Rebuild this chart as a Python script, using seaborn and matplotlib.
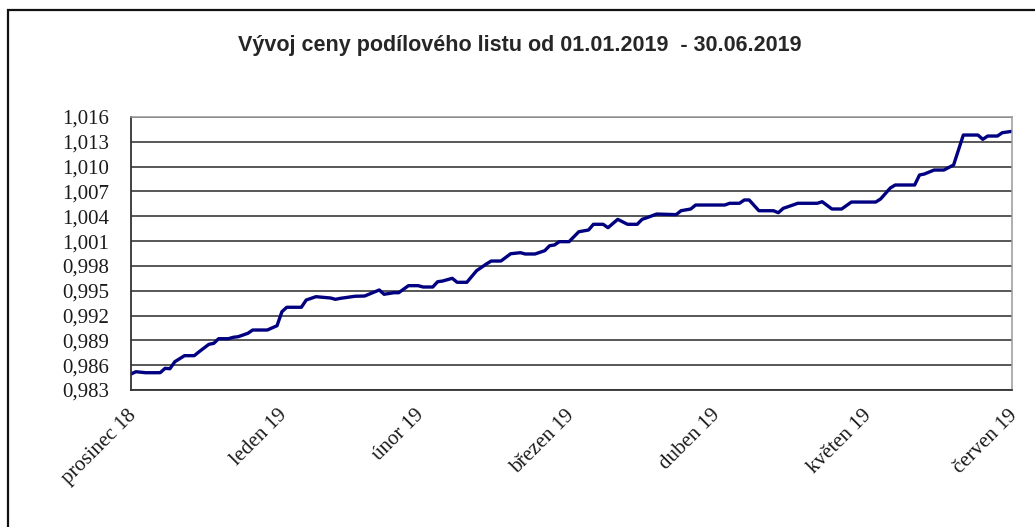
import matplotlib
matplotlib.use("Agg")
import matplotlib.pyplot as plt
import matplotlib.dates as mdates
import matplotlib.transforms as mtransforms
from matplotlib.patches import Rectangle
from matplotlib.ticker import FixedLocator, FuncFormatter
import pandas as pd
import seaborn as sns

# Price of one unit (NAV per share), daily vertices of the series
dates = [
    "2018-12-31", "2019-01-01", "2019-01-03", "2019-01-06", "2019-01-07", "2019-01-08",
    "2019-01-09", "2019-01-11", "2019-01-13", "2019-01-14", "2019-01-16", "2019-01-17",
    "2019-01-18", "2019-01-20", "2019-01-21", "2019-01-22", "2019-01-24", "2019-01-25",
    "2019-01-28", "2019-01-30", "2019-01-31", "2019-02-01", "2019-02-04", "2019-02-05",
    "2019-02-07", "2019-02-10", "2019-02-11", "2019-02-12", "2019-02-13", "2019-02-15",
    "2019-02-17", "2019-02-20", "2019-02-21", "2019-02-23", "2019-02-24", "2019-02-26",
    "2019-02-28", "2019-03-01", "2019-03-03", "2019-03-04", "2019-03-05", "2019-03-07",
    "2019-03-08", "2019-03-10", "2019-03-12", "2019-03-14", "2019-03-15", "2019-03-17",
    "2019-03-19", "2019-03-21", "2019-03-22", "2019-03-24", "2019-03-26", "2019-03-27",
    "2019-03-28", "2019-03-29", "2019-03-31", "2019-04-02", "2019-04-04", "2019-04-05",
    "2019-04-07", "2019-04-08", "2019-04-10", "2019-04-12", "2019-04-14", "2019-04-15",
    "2019-04-16", "2019-04-18", "2019-04-22", "2019-04-23", "2019-04-25", "2019-04-26",
    "2019-05-02", "2019-05-03", "2019-05-05", "2019-05-06", "2019-05-07", "2019-05-09",
    "2019-05-12", "2019-05-13", "2019-05-14", "2019-05-15", "2019-05-17", "2019-05-21",
    "2019-05-22", "2019-05-24", "2019-05-26", "2019-05-28", "2019-06-02", "2019-06-03",
    "2019-06-05", "2019-06-06", "2019-06-10", "2019-06-11", "2019-06-12", "2019-06-14",
    "2019-06-16", "2019-06-18", "2019-06-20", "2019-06-23", "2019-06-24", "2019-06-25",
    "2019-06-27", "2019-06-28", "2019-06-30",
]
prices = [
    0.98493, 0.98521, 0.98509, 0.98509, 0.98562, 0.98557,
    0.98642, 0.98715, 0.98715, 0.98763, 0.98852, 0.98864,
    0.98920, 0.98920, 0.98937, 0.98944, 0.98985, 0.99025,
    0.99025, 0.99077, 0.99246, 0.99300, 0.99300, 0.99388,
    0.99428, 0.99412, 0.99396, 0.99408, 0.99416, 0.99433,
    0.99436, 0.99509, 0.99457, 0.99476, 0.99476, 0.99561,
    0.99561, 0.99545, 0.99545, 0.99609, 0.99617, 0.99650,
    0.99602, 0.99602, 0.99742, 0.99823, 0.99859, 0.99859,
    0.99947, 0.99960, 0.99944, 0.99944, 0.99984, 1.00044,
    1.00053, 1.00093, 1.00093, 1.00213, 1.00234, 1.00303,
    1.00303, 1.00262, 1.00363, 1.00303, 1.00303, 1.00363,
    1.00383, 1.00427, 1.00420, 1.00467, 1.00488, 1.00536,
    1.00536, 1.00557, 1.00557, 1.00597, 1.00597, 1.00467,
    1.00467, 1.00443, 1.00496, 1.00516, 1.00557, 1.00557,
    1.00576, 1.00488, 1.00488, 1.00572, 1.00572, 1.00609,
    1.00742, 1.00778, 1.00778, 1.00899, 1.00911, 1.00959,
    1.00959, 1.01020, 1.01382, 1.01382, 1.01330, 1.01370,
    1.01370, 1.01410, 1.01427,
]

# Axis ticks
y_ticks = [0.983, 0.986, 0.989, 0.992, 0.995, 0.998, 1.001,
           1.004, 1.007, 1.010, 1.013, 1.016]
month_ticks = ["2018-12-31", "2019-01-31", "2019-02-28", "2019-03-31",
               "2019-04-30", "2019-05-31", "2019-06-30"]
month_labels = ["prosinec 18", "leden 19", "únor 19", "březen 19",
                "duben 19", "květen 19", "červen 19"]
title = "Vývoj ceny podílového listu od 01.01.2019  - 30.06.2019"

sns.set_style("white")
plt.rcParams["font.family"] = ["Liberation Serif", "DejaVu Serif"]

df = pd.DataFrame({"datum": pd.to_datetime(dates), "cena": prices})

fig = plt.figure(figsize=(10.35, 5.27), dpi=100)
fig.patch.set_facecolor("white")

# Outer border of the chart object
fig.add_artist(Rectangle((8 / 1035, -0.2), 1.2, 1.2 - 10 / 527,
                         transform=fig.transFigure, fill=False,
                         edgecolor="#111111", linewidth=1.6))

ax = fig.add_axes([131 / 1035, 1 - 390 / 527, (1012 - 131) / 1035, (390 - 117) / 527])

sns.lineplot(data=df, x="datum", y="cena", ax=ax, color="#000080",
             linewidth=2.4, legend=False)

ax.set_xlim(pd.Timestamp(month_ticks[0]), pd.Timestamp(month_ticks[-1]))
ax.set_ylim(y_ticks[0], y_ticks[-1])

ax.yaxis.set_major_locator(FixedLocator(y_ticks))
ax.yaxis.set_major_formatter(FuncFormatter(lambda v, p: f"{v:.3f}".replace(".", ",")))
ax.yaxis.grid(True, color="#2a2a2a", linewidth=1.1)
ax.xaxis.grid(False)

ax.set_xticks([mdates.date2num(pd.Timestamp(d)) for d in month_ticks])
ax.set_xticklabels(month_labels, rotation=45, ha="right", rotation_mode="anchor")

ax.tick_params(axis="y", length=0, pad=15.5, labelsize=15, labelcolor="#1a1a1a")
ax.tick_params(axis="x", length=0, pad=10, labelsize=15, labelcolor="#1a1a1a")

# nudge the rotated month labels slightly left and down
shift = mtransforms.ScaledTranslation(-4 / 100, -2 / 100, fig.dpi_scale_trans)
for lbl in ax.get_xticklabels():
    lbl.set_transform(lbl.get_transform() + shift)

ax.set_xlabel("")
ax.set_ylabel("")

for side in ("left", "bottom"):
    ax.spines[side].set_color("#333333")
    ax.spines[side].set_linewidth(1.3)
for side in ("top", "right"):
    ax.spines[side].set_color("#9a9a9a")
    ax.spines[side].set_linewidth(1.1)
    ax.spines[side].set_visible(True)

fig.text(0.502, 1 - 45 / 527, title, ha="center", va="center",
         fontsize=15.5, fontweight="bold", family=["Liberation Sans", "DejaVu Sans"])

fig.savefig("out.png", dpi=100, facecolor="white")
